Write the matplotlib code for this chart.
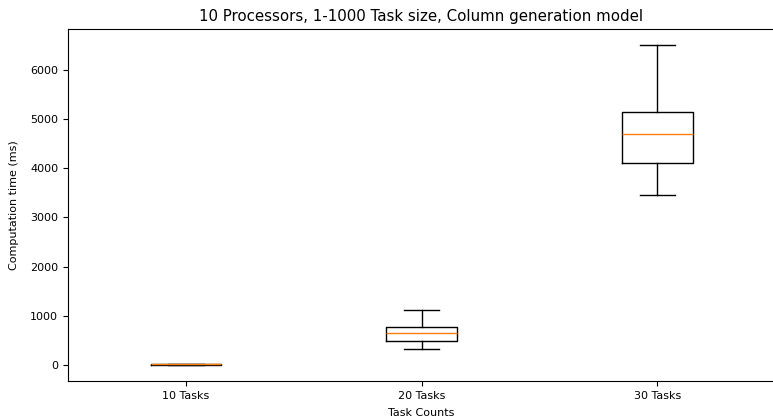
import matplotlib
matplotlib.use('Agg')
import matplotlib.pyplot as plt

labels = ['10 Tasks', '20 Tasks', '30 Tasks']
whislo = [0, 319, 3457]
q1 = [5, 494, 4108]
med = [10, 657, 4698]
q3 = [15, 767, 5146]
whishi = [25, 1118, 6508]

stats = []
for i in range(len(labels)):
    stats.append({'label': labels[i], 'whislo': whislo[i], 'q1': q1[i], 'med': med[i],
                  'q3': q3[i], 'whishi': whishi[i], 'fliers': []})

fig = plt.figure(figsize=(7.73, 4.19), dpi=100)
ax = fig.add_axes([0.088, 0.091, 0.9146, 0.84])
ax.bxp(stats)

ax.set_title('10 Processors, 1-1000 Task size, Column generation model', fontsize=10.8)
ax.set_xlabel('Task Counts', fontsize=8, labelpad=5)
ax.set_ylabel('Computation time (ms)', fontsize=8, labelpad=8)
ax.tick_params(labelsize=8)

fig.savefig('out.png', dpi=100)
